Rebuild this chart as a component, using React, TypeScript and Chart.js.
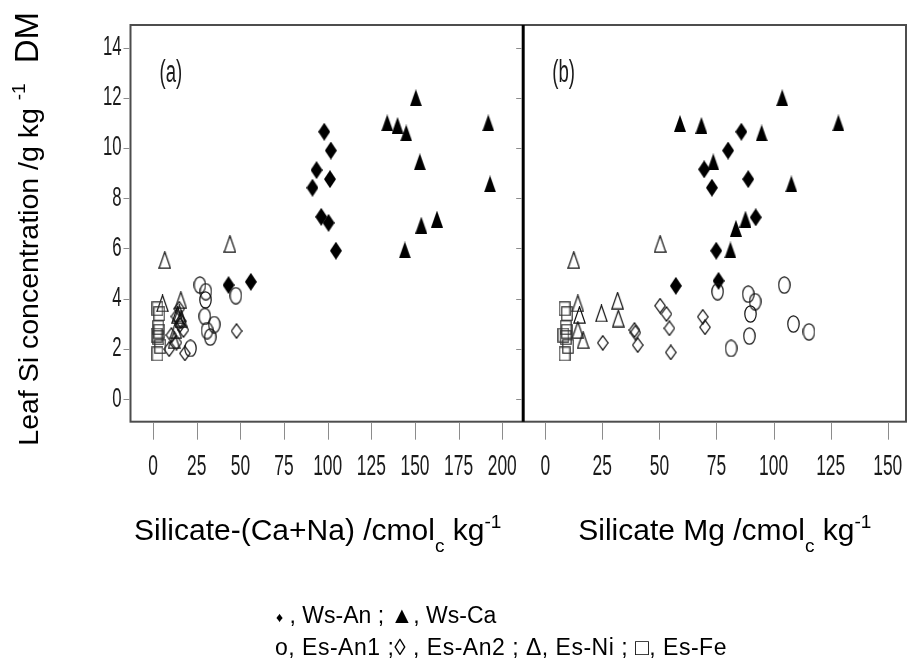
import React, { useEffect, useRef } from "react";
import { Chart, registerables } from "chart.js";

Chart.register(...registerables);

// ---- axes / tick labels ----
const yTickValues = [0, 2, 4, 6, 8, 10, 12, 14];
const xTickValuesA = [0, 25, 50, 75, 100, 125, 150, 175, 200];
const xTickValuesB = [0, 25, 50, 75, 100, 125, 150];
const yRange = [-0.9, 14.9];
const xRangeA = [-12.95, 212];
const xRangeB = [-9.64, 158];
const panelLabels = ["(a)", "(b)"];
const xTitleA = ["Silicate-(Ca+Na) /cmol", "c", " kg", "-1"];
const xTitleB = ["Silicate Mg /cmol", "c", " kg", "-1"];
const yTitle = ["Leaf Si concentration /g kg", "-1", "DM"];
const legendLine1 = ["\u2666", " , Ws-An ; \u25B2, Ws-Ca"];
const legendLine2 = "o, Es-An1 ;\u25CA , Es-An2 ; \u0394, Es-Ni ; \u25A1, Es-Fe";

// ---- panel (a): x = Silicate-(Ca+Na), y = leaf Si ----
const wsAnA = [[98, 10.65], [101.8, 9.9], [93.6, 9.12], [101.3, 8.76], [91.3, 8.42], [96.3, 7.26], [100.5, 7.02], [104.7, 5.91], [43.2, 4.54], [56, 4.67]];
const wsCaA = [[150.5, 12.0], [134.1, 11.0], [140, 10.9], [145, 10.6], [192, 11.0], [152.8, 9.45], [193, 8.57], [153.6, 6.93], [162.6, 7.17], [144.2, 5.94]];
const esAn1A = [[26.8, 4.54], [30.2, 4.28], [47.4, 4.12], [30, 3.95], [29.6, 3.29], [35, 2.97], [30.9, 2.73], [32.7, 2.47], [21.4, 2.02]];
const esAn2A = [[47.8, 2.71], [18.2, 1.82], [13.4, 3.29], [15.3, 2.95], [17.4, 2.75], [10.5, 2.55], [13.4, 2.25], [9.2, 1.99], [15, 3.6], [16, 3.1]];
const esNiA = [[6.7, 5.54], [44, 6.18], [5.4, 3.81], [15.9, 3.94], [15, 3.41], [16, 3.21], [14, 3.35], [13, 2.75], [12, 2.35]];
const esFeA = [[2.5, 3.6], [3.5, 3.4], [3, 2.85], [3.5, 2.7], [2, 2.55], [3, 2.45], [4, 2.1], [2.5, 1.8]];

// ---- panel (b): x = Silicate Mg, y = leaf Si ----
const wsAnB = [[85.9, 10.65], [80.1, 9.9], [69.6, 9.15], [88.9, 8.76], [73, 8.42], [92.2, 7.24], [74.9, 5.91], [75.9, 4.71], [57.2, 4.51]];
const wsCaB = [[103.8, 12.0], [59, 10.98], [68.4, 10.9], [94.8, 10.6], [128.4, 11.0], [73.6, 9.45], [107.8, 8.57], [83.5, 6.8], [87.7, 7.17], [81.1, 5.94]];
const esAn1B = [[104.7, 4.54], [75.5, 4.28], [88.9, 4.18], [91.9, 3.88], [89.9, 3.39], [108.7, 2.99], [115.5, 2.68], [89.4, 2.51], [81.4, 2.02]];
const esAn2B = [[25.2, 2.24], [39.1, 2.75], [39.5, 2.65], [40.5, 2.15], [50.3, 3.72], [53.1, 3.39], [54.4, 2.82], [55, 1.86], [69, 3.28], [70, 2.86]];
const esNiB = [[12.5, 5.54], [50.3, 6.18], [14.3, 3.81], [31.7, 3.92], [24.6, 3.41], [32, 3.21], [15, 3.35], [14.3, 2.75], [16.6, 2.35]];
const esFeB = [[8.5, 3.6], [9.5, 3.4], [9, 2.85], [9.5, 2.7], [8, 2.55], [9, 2.45], [10, 2.1], [8.5, 1.8]];

const FONT = '"Liberation Sans", Arial, Helvetica, sans-serif';

function makeMarker(w: number, h: number, draw: (g: CanvasRenderingContext2D, w: number, h: number) => void) {
  const c = document.createElement("canvas");
  c.width = w;
  c.height = h;
  const g = c.getContext("2d")!;
  draw(g, w, h);
  return c;
}

function buildMarkers() {
  const filledDiamond = makeMarker(12, 18, (g, w, h) => {
    g.beginPath(); g.moveTo(w / 2, 0); g.lineTo(w, h / 2); g.lineTo(w / 2, h); g.lineTo(0, h / 2); g.closePath();
    g.fillStyle = "#000"; g.fill();
  });
  const filledTriangle = makeMarker(12, 17, (g, w, h) => {
    g.beginPath(); g.moveTo(w / 2, 0); g.lineTo(w, h); g.lineTo(0, h); g.closePath();
    g.fillStyle = "#000"; g.fill();
  });
  const openCircle = makeMarker(13, 18, (g, w, h) => {
    g.beginPath(); g.ellipse(w / 2, h / 2, w / 2 - 0.8, h / 2 - 0.8, 0, 0, Math.PI * 2);
    g.strokeStyle = "#111"; g.lineWidth = 1.2; g.stroke();
  });
  const openDiamond = makeMarker(12, 16, (g, w, h) => {
    g.beginPath(); g.moveTo(w / 2, 0.8); g.lineTo(w - 0.8, h / 2); g.lineTo(w / 2, h - 0.8); g.lineTo(0.8, h / 2); g.closePath();
    g.strokeStyle = "#111"; g.lineWidth = 1.2; g.stroke();
  });
  const openTriangle = makeMarker(13, 18, (g, w, h) => {
    g.beginPath(); g.moveTo(w / 2, 0.8); g.lineTo(w - 0.8, h - 0.8); g.lineTo(0.8, h - 0.8); g.closePath();
    g.strokeStyle = "#111"; g.lineWidth = 1.2; g.stroke();
  });
  const openSquare = makeMarker(12, 15, (g, w, h) => {
    g.strokeStyle = "#333"; g.lineWidth = 1.2; g.strokeRect(0.8, 0.8, w - 1.6, h - 1.6);
  });
  return { filledDiamond, filledTriangle, openCircle, openDiamond, openTriangle, openSquare };
}

function condText(ctx: CanvasRenderingContext2D, text: string, x: number, y: number, align: string, size: number, sx: number) {
  ctx.save();
  ctx.font = `${size}px ${FONT}`;
  const w = ctx.measureText(text).width * sx;
  const left = align === "center" ? x - w / 2 : align === "right" ? x - w : x;
  ctx.translate(left, y);
  ctx.scale(sx, 1);
  ctx.textAlign = "left";
  ctx.textBaseline = "middle";
  ctx.fillStyle = "#1a1a1a";
  ctx.fillText(text, 0, 0);
  ctx.restore();
}

// draws [main, sub, main, sup] starting at x, baseline y
function drawUnitTitle(ctx: CanvasRenderingContext2D, parts: string[], x: number, y: number) {
  const big = 30, small = 19;
  ctx.save();
  ctx.fillStyle = "#000";
  ctx.textAlign = "left";
  ctx.textBaseline = "alphabetic";
  let cx = x;
  const spec = [
    [parts[0], big, 0], [parts[1], small, 12], [parts[2], big, 0], [parts[3], small, -12],
  ] as [string, number, number][];
  for (const [t, s, dy] of spec) {
    ctx.font = `${s}px ${FONT}`;
    ctx.fillText(t, cx, y + dy);
    cx += ctx.measureText(t).width;
  }
  ctx.restore();
}

const decor = {
  id: "decor",
  afterDatasetsDraw(chart: any) {
    const ctx: CanvasRenderingContext2D = chart.ctx;
    const { left, right, top, bottom } = chart.chartArea;
    const xa = chart.scales.xa, xb = chart.scales.xb, ys = chart.scales.y;
    const line = (x1: number, y1: number, x2: number, y2: number) => {
      ctx.beginPath(); ctx.moveTo(x1, y1); ctx.lineTo(x2, y2); ctx.stroke();
    };
    ctx.save();
    // frame
    ctx.strokeStyle = "#4d4d4d";
    ctx.lineWidth = 2;
    ctx.strokeRect(left, top, right - left, bottom - top);
    // divider between the panels
    ctx.strokeStyle = "#000";
    ctx.lineWidth = 3;
    line(xa.right, top, xa.right, bottom);
    // tick marks
    ctx.strokeStyle = "#8c8c8c";
    ctx.lineWidth = 1;
    for (const v of yTickValues) {
      const p = Math.round(ys.getPixelForValue(v)) + 0.5;
      line(left - 7, p, left - 1, p);
      line(xa.right - 7, p, xa.right - 1.5, p);
    }
    const xs: [any, number[]][] = [[xa, xTickValuesA], [xb, xTickValuesB]];
    for (const [sc, vals] of xs) {
      for (const v of vals) {
        const p = Math.round(sc.getPixelForValue(v)) + 0.5;
        line(p, bottom + 1, p, bottom + 18);
      }
    }
    // tick labels (condensed)
    for (const v of yTickValues) {
      condText(ctx, String(v), left - 9, ys.getPixelForValue(v), "right", 27, 0.62);
    }
    for (const [sc, vals] of xs) {
      for (const v of vals) {
        condText(ctx, String(v), sc.getPixelForValue(v), bottom + 45, "center", 29, 0.6);
      }
    }
    // panel labels
    condText(ctx, panelLabels[0], xa.left + 29, top + 48, "left", 31, 0.6);
    condText(ctx, panelLabels[1], xb.left + 29, top + 48, "left", 31, 0.6);

    // x-axis titles
    drawUnitTitle(ctx, xTitleA, xa.left + 3.5, bottom + 118);
    drawUnitTitle(ctx, xTitleB, xb.left + 55, bottom + 118);

    // y-axis title (rotated)
    ctx.save();
    ctx.fillStyle = "#000";
    const big = 28.5, small = 19;
    ctx.font = `${big}px ${FONT}`;
    const wMain = ctx.measureText(yTitle[0]).width;
    ctx.font = `33px ${FONT}`;
    const wDM = ctx.measureText(yTitle[2]).width;
    ctx.font = `${small}px ${FONT}`;
    const wSup = ctx.measureText(yTitle[1]).width;
    const endY = 12;
    const total = wMain + 8 + wSup + 20 + wDM;
    ctx.translate(38, endY + total);
    ctx.rotate(-Math.PI / 2);
    ctx.textBaseline = "alphabetic";
    ctx.textAlign = "left";
    ctx.font = `${big}px ${FONT}`;
    ctx.fillText(yTitle[0], 0, 0);
    ctx.font = `${small}px ${FONT}`;
    ctx.fillText(yTitle[1], wMain + 8, -13);
    ctx.font = `33px ${FONT}`;
    ctx.fillText(yTitle[2], wMain + 8 + wSup + 20, 0);
    ctx.restore();

    // legend text
    ctx.fillStyle = "#000";
    ctx.textBaseline = "alphabetic";
    ctx.textAlign = "left";
    ctx.font = `14px ${FONT}`;
    ctx.fillText(legendLine1[0], 276, 622);
    const wd = ctx.measureText(legendLine1[0]).width;
    ctx.font = `23px ${FONT}`;
    ctx.fillText(legendLine1[1], 276 + wd, 623);
    (ctx as any).letterSpacing = "0.5px";
    ctx.fillText(legendLine2, 275, 655);
    (ctx as any).letterSpacing = "0px";
    ctx.restore();
  },
};

export default function App() {
  const ref = useRef<HTMLCanvasElement | null>(null);
  useEffect(() => {
    if (!ref.current) return;
    const m = buildMarkers();
    const toPts = (arr: number[][]) => arr.map(([x, y]) => ({ x, y }));
    const ds = (label: string, arr: number[][], axis: string, style: HTMLCanvasElement) => ({
      label,
      data: toPts(arr),
      xAxisID: axis,
      yAxisID: "y",
      pointStyle: style,
      pointRadius: 7,
      showLine: false,
    });
    const fixed = (size: number, horizontal: boolean) => (scale: any) => {
      if (horizontal) scale.height = size; else scale.width = size;
    };
    const hidden = { display: false };
    const chart = new Chart(ref.current, {
      type: "scatter",
      data: {
        datasets: [
          ds("Es-Fe (a)", esFeA, "xa", m.openSquare),
          ds("Es-An2 (a)", esAn2A, "xa", m.openDiamond),
          ds("Es-Ni (a)", esNiA, "xa", m.openTriangle),
          ds("Es-An1 (a)", esAn1A, "xa", m.openCircle),
          ds("Ws-An (a)", wsAnA, "xa", m.filledDiamond),
          ds("Ws-Ca (a)", wsCaA, "xa", m.filledTriangle),
          ds("Es-Fe (b)", esFeB, "xb", m.openSquare),
          ds("Es-An2 (b)", esAn2B, "xb", m.openDiamond),
          ds("Es-Ni (b)", esNiB, "xb", m.openTriangle),
          ds("Es-An1 (b)", esAn1B, "xb", m.openCircle),
          ds("Ws-An (b)", wsAnB, "xb", m.filledDiamond),
          ds("Ws-Ca (b)", wsCaB, "xb", m.filledTriangle),
        ] as any,
      },
      options: {
        responsive: false,
        animation: false,
        layout: { autoPadding: false, padding: { top: 25, right: 1, left: 0, bottom: 0 } },
        plugins: { legend: { display: false }, tooltip: { enabled: false }, title: { display: false } },
        scales: {
          y: {
            type: "linear", position: "left", min: yRange[0], max: yRange[1],
            grid: hidden, border: hidden, ticks: { display: false },
            afterBuildTicks: (s: any) => { s.ticks = yTickValues.map((v) => ({ value: v })); },
            afterFit: fixed(130.5, false),
          },
          xa: {
            type: "linear", position: "bottom", stack: "x", stackWeight: 392.6,
            min: xRangeA[0], max: xRangeA[1],
            grid: hidden, border: hidden, ticks: { display: false },
            afterBuildTicks: (s: any) => { s.ticks = xTickValuesA.map((v) => ({ value: v })); },
            afterFit: fixed(238.3, true),
          },
          xb: {
            type: "linear", position: "bottom", stack: "x", stackWeight: 382.7,
            min: xRangeB[0], max: xRangeB[1],
            grid: hidden, border: hidden, ticks: { display: false },
            afterBuildTicks: (s: any) => { s.ticks = xTickValuesB.map((v) => ({ value: v })); },
            afterFit: fixed(238.3, true),
          },
        } as any,
      },
      plugins: [decor],
    });
    return () => chart.destroy();
  }, []);
  return (
    <div style={{ position: "absolute", left: 0, top: 0, width: 907, height: 660, background: "#fff" }}>
      <canvas ref={ref} width={907} height={660} style={{ width: 907, height: 660, display: "block" }} />
    </div>
  );
}
